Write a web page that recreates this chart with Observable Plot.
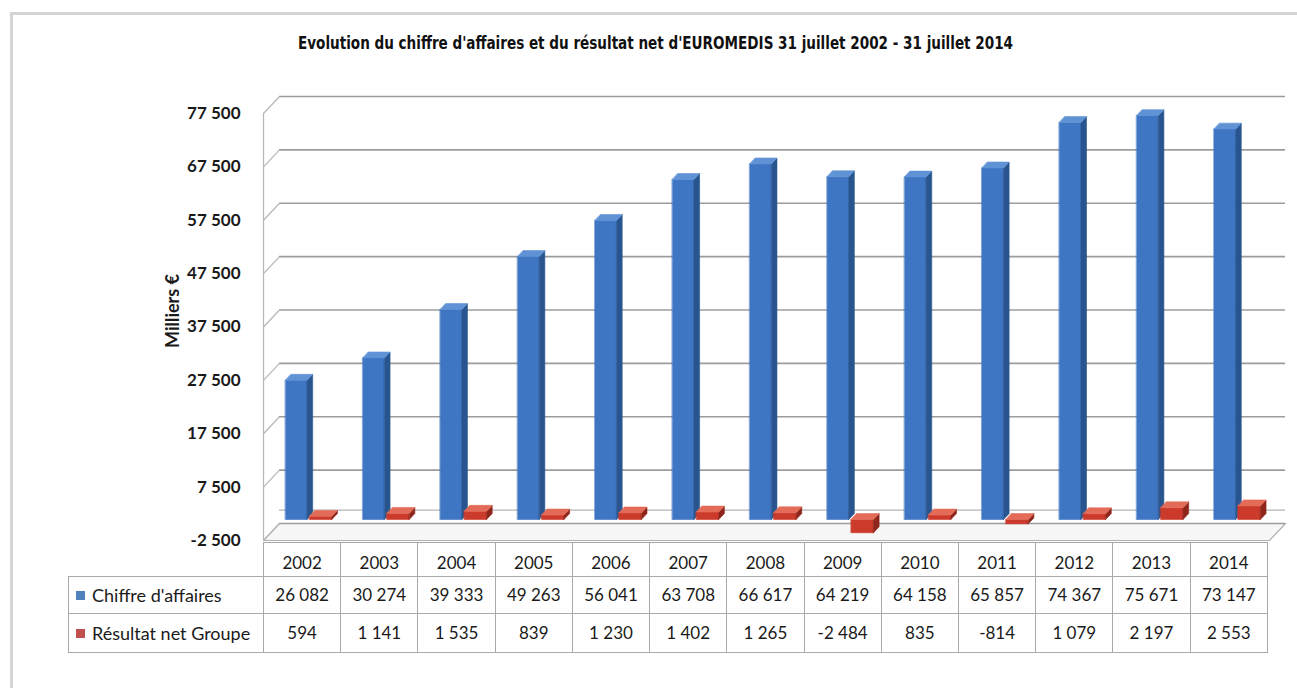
<!DOCTYPE html>
<html>
<head>
<meta charset="utf-8">
<script src="https://cdn.jsdelivr.net/npm/d3@7"></script>
<script src="https://cdn.jsdelivr.net/npm/@observablehq/plot@0.6"></script>
<style>
  html, body { margin: 0; padding: 0; background: #fff; }
  #root { position: relative; width: 1297px; height: 688px; overflow: hidden; background: #fff; font-family: Lato, "Open Sans", sans-serif; color: #1a1a1a; }
  #frame { position: absolute; left: 10px; top: 12px; width: 1320px; height: 700px; border-top: 3px solid #d4d4d4; border-left: 3px solid #d4d4d4; }
  #title { position: absolute; top: 33px; left: 0; white-space: nowrap; font-family: "Liberation Sans Narrow", "DejaVu Sans Condensed", "Liberation Sans", sans-serif; font-weight: bold; font-size: 17px; transform-origin: 0 0; color: #111; }
  #chart { position: absolute; left: 0; top: 0; }
  #ylabel { position: absolute; left: 172px; top: 311px; transform: translate(-50%, -50%) rotate(-90deg); font-weight: bold; font-size: 18px; white-space: nowrap; }
  #tbl { position: absolute; left: 68px; top: 542px; width: 1200px; border-collapse: collapse; table-layout: fixed; font-size: 17px; }
  #tbl td { border: 1px solid #a9a9a9; text-align: center; padding: 0; white-space: nowrap; overflow: hidden; line-height: 20px; }
  #tbl tr.yr td { height: 27px; padding-top: 6px; vertical-align: middle; }
  #tbl tr.yr td.blank { border-top: none; border-left: none; }
  #tbl tr.s1 td { height: 36px; }
  #tbl tr.s2 td { height: 38px; }
  #tbl td.lab { text-align: left; padding-left: 7px; font-size: 18px; }
  .mk { display: inline-block; width: 9px; height: 9px; margin-right: 7px; vertical-align: 2px; }
</style>
</head>
<body>
<div id="root">
  <div id="frame"></div>
  <div id="title">Evolution du chiffre d'affaires et du résultat net d'EUROMEDIS 31 juillet 2002 - 31 juillet 2014</div>
  <div id="chart"></div>
  <div id="ylabel">Milliers €</div>
  <table id="tbl"></table>
</div>
<script>
// ---- data ----
const years = [2002, 2003, 2004, 2005, 2006, 2007, 2008, 2009, 2010, 2011, 2012, 2013, 2014];
const chiffreAffaires = [26082, 30274, 39333, 49263, 56041, 63708, 66617, 64219, 64158, 65857, 74367, 75671, 73147];
const resultatNet = [594, 1141, 1535, 839, 1230, 1402, 1265, -2484, 835, -814, 1079, 2197, 2553];
const seriesNames = ["Chiffre d'affaires", "Résultat net Groupe"];
const yTicks = [-2500, 7500, 17500, 27500, 37500, 47500, 57500, 67500, 77500];

// ---- 3D projection (depth expressed in data units) ----
const DX = 0.207;   // depth shift along x (category units)
const DY = 3185;    // depth shift along y (value units)
const yMin = -2500, yMax = 77500;
const n = years.length;
const proj = (x, v, d) => ({x: x + (1 - d) * DX, y: v - d * DY}); // d=1 front, d=0 back wall
const dF = 0.55, dB = 0.2;

function boxes(values, a, b) {
  const front = [], side = [], top = [];
  values.forEach((v, i) => {
    const hi = Math.max(v, 0), lo = Math.min(v, 0);
    const x0 = i + a, x1 = i + b;
    [[x0, lo, dF], [x1, lo, dF], [x1, hi, dF], [x0, hi, dF]].forEach(p => front.push({id: i, ...proj(...p)}));
    [[x1, lo, dF], [x1, lo, dB], [x1, hi, dB], [x1, hi, dF]].forEach(p => side.push({id: i, ...proj(...p)}));
    [[x0, hi, dF], [x1, hi, dF], [x1, hi, dB], [x0, hi, dB]].forEach(p => top.push({id: i, ...proj(...p)}));
  });
  return {front, side, top};
}
const blue = boxes(chiffreAffaires, -0.31, -0.03);
const red = boxes(resultatNet, 0.0, 0.29);
const floor = [[-0.5, yMin, 1], [n - 0.5, yMin, 1], [n - 0.5, yMin, 0], [-0.5, yMin, 0]].map(p => ({id: 0, ...proj(...p)}));

const loc = d3.formatLocale({decimal: ",", thousands: "\u00a0", grouping: [3], currency: ["", ""], minus: "-"});
const fmt = loc.format(",d");

const faces = (pts, fill) => Plot.line(pts, {x: "x", y: "y", z: "id", fill, stroke: fill, strokeWidth: 0.6, curve: "linear-closed"});

const chart = Plot.plot({
  width: 1297, height: 560,
  marginLeft: 263, marginRight: 12, marginTop: 96, marginBottom: 20,
  style: {background: "transparent", fontFamily: "Lato, sans-serif", overflow: "visible"},
  x: {domain: [-0.5, n - 0.5 + DX], axis: null},
  y: {domain: [yMin - DY, yMax], axis: null},
  marks: [
    // floor
    Plot.line(floor, {x: "x", y: "y", z: "id", fill: "#f7f7f7", stroke: "#b0b0b0", strokeWidth: 1.2, curve: "linear-closed"}),
    // back wall gridlines
    Plot.ruleY(yTicks, {x1: -0.5 + DX, x2: n - 0.5 + DX, stroke: "#9c9c9c", strokeWidth: 1.6}),
    Plot.ruleY([0], {x1: -0.5 + DX, x2: n - 0.5 + DX, stroke: "#b4b4b4", strokeWidth: 1.2}),
    // left wall slants and front edge
    Plot.link(yTicks, {x1: -0.5, y1: d => d - DY, x2: -0.5 + DX, y2: d => d, stroke: "#b8b8b8", strokeWidth: 1.3}),
    Plot.ruleX([-0.5], {y1: yMin - DY, y2: yMax - DY, stroke: "#b8b8b8", strokeWidth: 1.3}),
    // y tick labels (front plane)
    Plot.text(yTicks, {x: -0.5, y: d => d - DY, text: d => fmt(d), textAnchor: "end", dx: -23, fontSize: 17, fontWeight: "bold", fill: "#1a1a1a"}),
    // blue columns
    faces(blue.front, "#3e76c3"),
    faces(blue.side, "#28558f"),
    faces(blue.top, "#6092d6"),
    // red columns
    faces(red.front, "#cc3a2b"),
    faces(red.side, "#8f261c"),
    faces(red.top, "#e36b58")
  ]
});
document.getElementById("chart").appendChild(chart);

// ---- data table ----
const tbl = d3.select("#tbl");
const cg = tbl.append("colgroup");
cg.append("col").style("width", "195px");
years.forEach(() => cg.append("col"));
const r0 = tbl.append("tr").attr("class", "yr");
r0.append("td").attr("class", "blank");
years.forEach(y => r0.append("td").text(y));
const colors = ["#4f81bd", "#c0504d"];
[chiffreAffaires, resultatNet].forEach((vals, k) => {
  const r = tbl.append("tr").attr("class", k === 0 ? "s1" : "s2");
  const lab = r.append("td").attr("class", "lab");
  lab.append("span").attr("class", "mk").style("background", colors[k]);
  lab.append("span").text(seriesNames[k]);
  vals.forEach(v => r.append("td").text(fmt(v)));
});

// ---- title fit ----
const t = document.getElementById("title");
const w = t.getBoundingClientRect().width;
const target = 715;
t.style.transform = `scaleX(${target / w})`;
t.style.left = (298) + "px";
</script>
</body>
</html>
